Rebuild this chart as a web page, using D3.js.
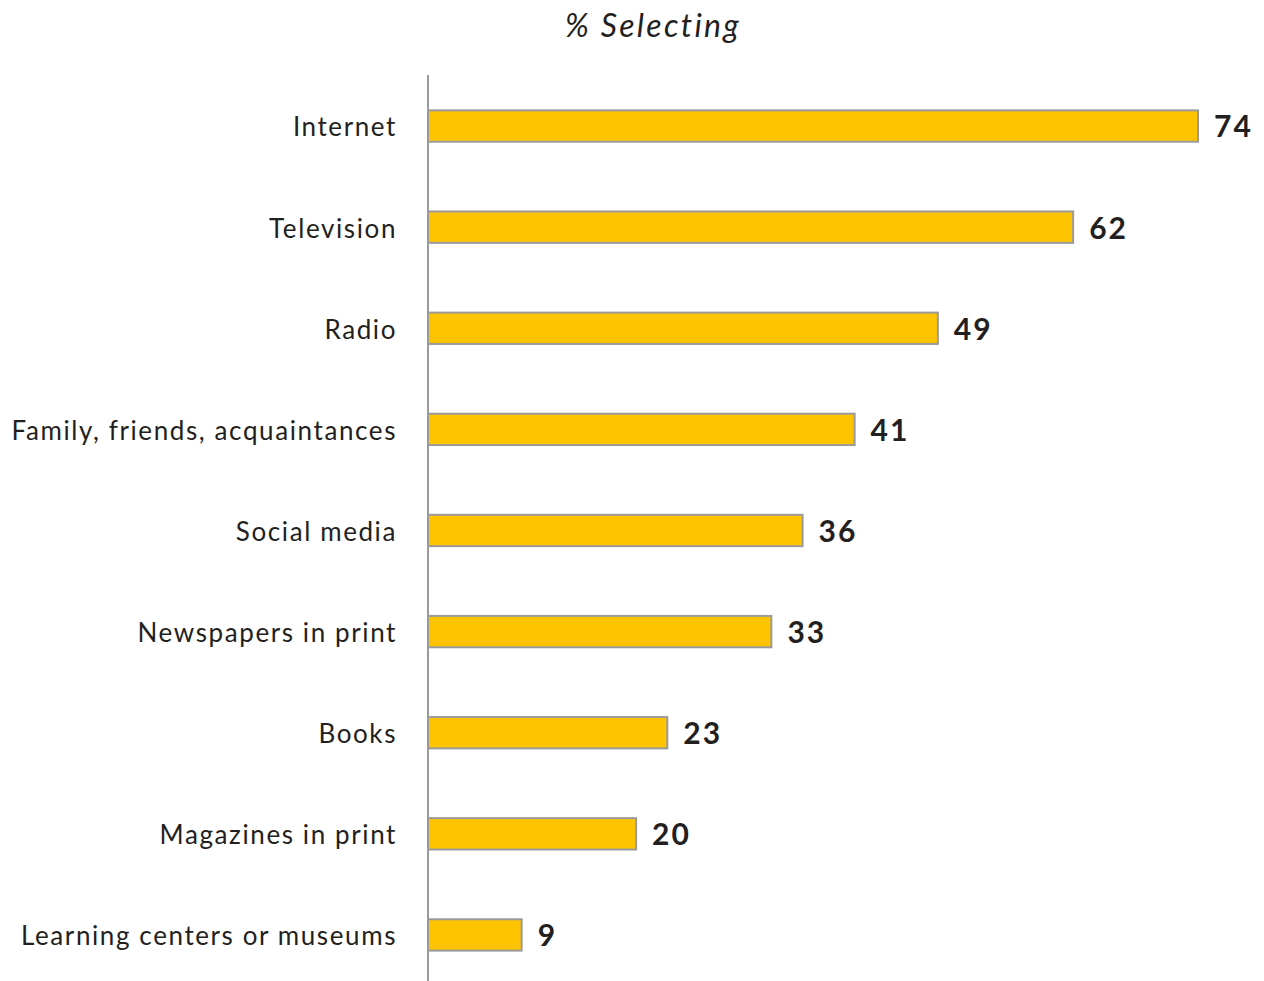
<!DOCTYPE html>
<html>
<head>
<meta charset="utf-8">
<script src="https://cdn.jsdelivr.net/npm/d3@7"></script>
<style>
  html, body { margin: 0; padding: 0; background: #fff; }
  svg { display: block; }
</style>
</head>
<body>
<svg id="chart" width="1264" height="981"></svg>
<script>
// Information sources and share of respondents selecting each
const categories = [
  "Internet",
  "Television",
  "Radio",
  "Family, friends, acquaintances",
  "Social media",
  "Newspapers in print",
  "Books",
  "Magazines in print",
  "Learning centers or museums"
];
const values = [74, 62, 49, 41, 36, 33, 23, 20, 9];
const title = "% Selecting";

const svg = d3.select("#chart");
const fontFamily = "Lato, 'Open Sans', sans-serif";
const textColor = "#231f20";

const x = d3.scaleLinear().domain([0, 74]).range([428, 1198]);
const y = d3.scaleBand()
  .domain(categories)
  .range([75.5, 985.5])
  .paddingInner(0.69)
  .paddingOuter(0.345);

// Title
svg.append("text")
  .attr("x", 653)
  .attr("y", 37)
  .attr("text-anchor", "middle")
  .attr("font-family", fontFamily)
  .attr("font-style", "italic")
  .attr("font-size", 32)
  .attr("letter-spacing", 2.3)
  .attr("fill", textColor)
  .text(title);

// Bars
svg.selectAll("rect.bar")
  .data(values)
  .join("rect")
  .attr("class", "bar")
  .attr("x", x(0))
  .attr("y", (d, i) => y(categories[i]))
  .attr("width", d => x(d) - x(0))
  .attr("height", y.bandwidth())
  .attr("fill", "#FFC400")
  .attr("stroke", "#9a9a9a")
  .attr("stroke-width", 2);

// Vertical axis line
svg.append("line")
  .attr("x1", x(0)).attr("x2", x(0))
  .attr("y1", 75).attr("y2", 981)
  .attr("stroke", "#9a9a9a")
  .attr("stroke-width", 2);

// Category labels
svg.selectAll("text.cat")
  .data(categories)
  .join("text")
  .attr("class", "cat")
  .attr("x", 397)
  .attr("y", d => y(d) + y.bandwidth() / 2)
  .attr("dy", "0.4em")
  .attr("text-anchor", "end")
  .attr("font-family", fontFamily)
  .attr("font-size", 26)
  .attr("letter-spacing", 1.6)
  .attr("fill", textColor)
  .text(d => d);

// Value labels
svg.selectAll("text.val")
  .data(values)
  .join("text")
  .attr("class", "val")
  .attr("x", d => x(d) + 16)
  .attr("y", (d, i) => y(categories[i]) + y.bandwidth() / 2)
  .attr("dy", "0.38em")
  .attr("font-family", fontFamily)
  .attr("font-weight", "bold")
  .attr("font-size", 30)
  .attr("letter-spacing", 2)
  .attr("fill", textColor)
  .text(d => d);
</script>
</body>
</html>
